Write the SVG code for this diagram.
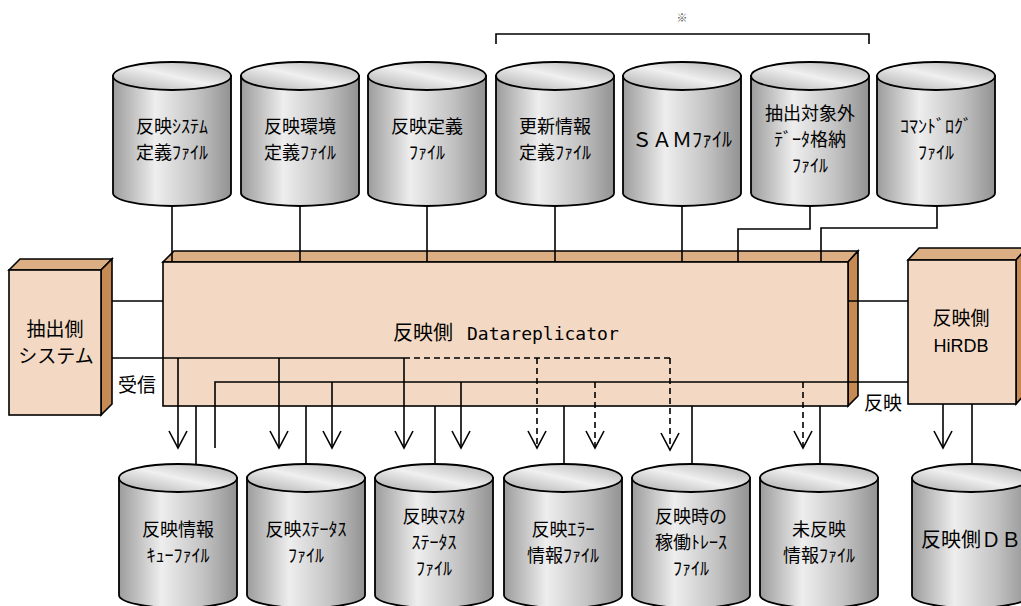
<svg xmlns="http://www.w3.org/2000/svg" xmlns:xlink="http://www.w3.org/1999/xlink" width="1021" height="606" viewBox="0 0 1021 606">
<style>
.t{font-family:"Noto Sans CJK JP","Noto Sans",sans-serif;font-size:18px;fill:#000;text-anchor:middle}
.t1{font-family:"Noto Sans CJK JP","Noto Sans",sans-serif;font-size:20px;fill:#000;text-anchor:middle}
.ln{stroke:#000;stroke-width:1.6;fill:none}
.ar{stroke:#000;stroke-width:1.6;fill:none;marker-end:url(#arr)}
.da{stroke:#000;stroke-width:1.6;fill:none;stroke-dasharray:6 4;marker-end:url(#arr)}
.dl{stroke:#000;stroke-width:1.6;fill:none;stroke-dasharray:6 4}
.front{fill:#F3D9C3;stroke:#000;stroke-width:1.6}
.top{fill:#DCAE84;stroke:#000;stroke-width:1.6}
.side{fill:#C68A55;stroke:#000;stroke-width:1.6}
</style>
<defs>
<linearGradient id="body" x1="0" y1="0" x2="1" y2="0">
<stop offset="0" stop-color="#9c9c9c"/>
<stop offset="0.36" stop-color="#eeeeee"/>
<stop offset="0.72" stop-color="#c2c2c2"/>
<stop offset="1" stop-color="#929292"/>
</linearGradient>
<linearGradient id="cap" x1="0" y1="1" x2="1" y2="0">
<stop offset="0" stop-color="#a8a8a8"/>
<stop offset="0.5" stop-color="#f0f0f0"/>
<stop offset="1" stop-color="#ababab"/>
</linearGradient>
<g id="cyl">
<path d="M0,14 V131 A59,13 0 0 0 118,131 V14 Z" fill="url(#body)" stroke="#000" stroke-width="1.8"/>
<ellipse cx="59" cy="14" rx="59" ry="14" fill="url(#cap)" stroke="#000" stroke-width="1.8"/>
</g>
<marker id="arr" markerUnits="userSpaceOnUse" viewBox="0 0 20 20" refX="18" refY="10" markerWidth="20" markerHeight="20" orient="auto">
<path d="M1,1 L18,10 L1,19" fill="none" stroke="#000" stroke-width="1.6"/>
</marker>
</defs>
<rect width="1021" height="606" fill="#fff"/>

<g id="bracket">
<path class="ln" d="M496,44 V34 H869 V44"/>
<text x="682" y="22" style="font-family:'Noto Sans CJK JP',sans-serif;font-size:11px;fill:#555;text-anchor:middle">※</text>
</g>

<g id="c-sys"><use xlink:href="#cyl" x="113" y="62"/><text class="t" x="172" y="133">反映ｼｽﾃﾑ<tspan x="172" dy="26">定義ﾌｧｲﾙ</tspan></text></g>
<g id="c-env"><use xlink:href="#cyl" x="241" y="62"/><text class="t" x="300" y="133">反映環境<tspan x="300" dy="26">定義ﾌｧｲﾙ</tspan></text></g>
<g id="c-def"><use xlink:href="#cyl" x="368" y="62"/><text class="t" x="427" y="133">反映定義<tspan x="427" dy="26">ﾌｧｲﾙ</tspan></text></g>
<g id="c-upd"><use xlink:href="#cyl" x="496" y="62"/><text class="t" x="555" y="133">更新情報<tspan x="555" dy="26">定義ﾌｧｲﾙ</tspan></text></g>
<g id="c-sam"><use xlink:href="#cyl" x="623" y="62"/><text class="t1" x="682" y="147">ＳＡＭﾌｧｲﾙ</text></g>
<g id="c-ext"><use xlink:href="#cyl" x="751" y="62"/><text class="t" x="810" y="120">抽出対象外<tspan x="810" dy="26">ﾃﾞｰﾀ格納</tspan><tspan x="810" dy="26">ﾌｧｲﾙ</tspan></text></g>
<g id="c-cmd"><use xlink:href="#cyl" x="877" y="62"/><text class="t" x="936" y="133">ｺﾏﾝﾄﾞﾛｸﾞ<tspan x="936" dy="26">ﾌｧｲﾙ</tspan></text></g>

<g id="datareplicator">
<polygon class="top" points="163,262 174,251 858,251 848,262"/>
<polygon class="side" points="848,262 858,251 858,396 848,406"/>
<rect class="front" x="163" y="262" width="685" height="144"/>
<text x="393" y="340" style="font-family:'Noto Sans CJK JP',sans-serif;font-size:20px">反映側<tspan x="467" style="font-family:'DejaVu Sans Mono',monospace;font-size:18px">Datareplicator</tspan></text>
</g>

<g id="extract-system">
<polygon class="top" points="9,270 20,259 112,259 101,270"/>
<polygon class="side" points="101,270 112,259 112,404 101,415"/>
<rect class="front" x="9" y="270" width="92" height="145"/>
<text class="t1" x="55" y="336" style="font-size:19px">抽出側<tspan x="56" dy="27">システム</tspan></text>
</g>

<g id="hirdb">
<polygon class="top" points="908,260 919,248 1027,248 1016,260"/>
<polygon class="side" points="1016,260 1027,248 1027,392 1016,404"/>
<rect class="front" x="908" y="260" width="108" height="144"/>
<text class="t1" x="961" y="325" style="font-size:19px">反映側<tspan x="961" dy="27" style="font-family:'Liberation Sans',Arial,sans-serif;font-size:18px">HiRDB</tspan></text>
</g>

<g id="b-queue"><use xlink:href="#cyl" x="119" y="464"/><text class="t" x="178" y="536">反映情報<tspan x="178" dy="26">ｷｭｰﾌｧｲﾙ</tspan></text></g>
<g id="b-status"><use xlink:href="#cyl" x="247" y="464"/><text class="t" x="306" y="536">反映ｽﾃｰﾀｽ<tspan x="306" dy="26">ﾌｧｲﾙ</tspan></text></g>
<g id="b-master"><use xlink:href="#cyl" x="375" y="464"/><text class="t" x="434" y="523">反映ﾏｽﾀ<tspan x="434" dy="26">ｽﾃｰﾀｽ</tspan><tspan x="434" dy="26">ﾌｧｲﾙ</tspan></text></g>
<g id="b-error"><use xlink:href="#cyl" x="504" y="464"/><text class="t" x="563" y="536">反映ｴﾗｰ<tspan x="563" dy="26">情報ﾌｧｲﾙ</tspan></text></g>
<g id="b-trace"><use xlink:href="#cyl" x="632" y="464"/><text class="t" x="691" y="523">反映時の<tspan x="691" dy="26">稼働ﾄﾚｰｽ</tspan><tspan x="691" dy="26">ﾌｧｲﾙ</tspan></text></g>
<g id="b-unref"><use xlink:href="#cyl" x="760" y="464"/><text class="t" x="819" y="536">未反映<tspan x="819" dy="26">情報ﾌｧｲﾙ</tspan></text></g>
<g id="b-db"><use xlink:href="#cyl" x="912" y="464"/><text class="t1" x="971" y="547">反映側ＤＢ</text></g>

<g id="connectors">
<path class="ln" d="M172,206 V262"/>
<path class="ln" d="M300,206 V262"/>
<path class="ln" d="M427,206 V262"/>
<path class="ln" d="M555,206 V262"/>
<path class="ln" d="M682,206 V262"/>
<path class="ln" d="M810,206 V229 H738 V262"/>
<path class="ln" d="M937,206 V228 H821 V262"/>

<path class="ln" d="M112,301 H163"/>
<path class="ln" d="M848,301 H908"/>

<path class="ln" d="M112,358 H404"/>
<path class="dl" d="M404,358 H670"/>
<path class="ar" d="M178,358 V448"/>
<path class="ar" d="M279,358 V448"/>
<path class="ar" d="M404,358 V448"/>
<path class="da" d="M537,358 V448"/>
<path class="da" d="M670,358 V450"/>

<path class="ln" d="M215,448 V382 H908"/>
<path class="ar" d="M332,382 V448"/>
<path class="ar" d="M461,382 V448"/>
<path class="da" d="M595,382 V448"/>
<path class="da" d="M803,382 V448"/>

<path class="ln" d="M196,406 V464"/>
<path class="ln" d="M306,406 V464"/>
<path class="ln" d="M435,406 V464"/>
<path class="ln" d="M564,406 V464"/>
<path class="ln" d="M692,406 V464"/>
<path class="ln" d="M820,406 V464"/>

<path class="ar" d="M943,404 V448"/>
<path class="ln" d="M972,404 V464"/>
</g>

<g id="labels">
<text x="137" y="392" style="font-family:'Noto Sans CJK JP',sans-serif;font-size:19px;text-anchor:middle">受信</text>
<text x="883" y="410" style="font-family:'Noto Sans CJK JP',sans-serif;font-size:19px;text-anchor:middle">反映</text>
</g>
</svg>
